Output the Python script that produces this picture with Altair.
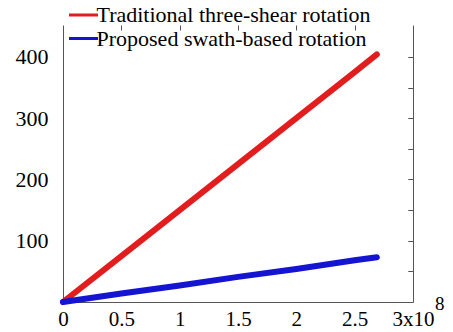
import altair as alt
import pandas as pd

# x in units of 10^8
series_names = ["Traditional three-shear rotation", "Proposed swath-based rotation"]
x_vals = [0.0, 0.5, 1.0, 1.5, 2.0, 2.5, 2.69]
red_vals = [0, 75, 150, 225, 300, 375, 404]
blue_vals = [0, 14, 27, 41, 54, 68, 73]
colors = ["#e31d1d", "#1414d2"]
x_ticks = [0.5, 1.0, 1.5, 2.0, 2.5]
y_ticks = [50, 100, 150, 200, 250, 300, 350, 400]
y_labels = [100, 200, 300, 400]
x_labels = [0, 0.5, 1, 1.5, 2, 2.5, 3]

rows = []
for xv, r, b in zip(x_vals, red_vals, blue_vals):
    rows.append({"x": xv, "y": r, "series": series_names[0]})
    rows.append({"x": xv, "y": b, "series": series_names[1]})
df = pd.DataFrame(rows)

FONT = "Liberation Serif"
AX = "#555555"
xs = alt.Scale(domain=[0, 3], nice=False, zero=True)
ys = alt.Scale(domain=[0, 452], nice=False)

base = alt.Chart(df)

lines = base.mark_line(strokeWidth=6, strokeCap="round").encode(
    x=alt.X("x:Q", scale=xs, title=None,
            axis=alt.Axis(values=x_labels, ticks=False, grid=False, domainColor=AX,
                          labelFont=FONT, labelFontSize=21, labelColor="black",
                          labelPadding=6, labelFlush=False,
                          labelExpr="datum.value == 3 ? '3x10' : format(datum.value, '~g')")),
    y=alt.Y("y:Q", scale=ys, title=None,
            axis=alt.Axis(values=y_labels, ticks=False, grid=False, domainColor=AX,
                          labelFont=FONT, labelFontSize=22, labelColor="black",
                          labelPadding=15)),
    color=alt.Color("series:N", sort=series_names,
                    scale=alt.Scale(domain=series_names, range=colors),
                    legend=alt.Legend(orient="none", legendX=9.5, legendY=-21, title=None,
                                      symbolType="M-2,0H2", symbolSize=210,
                                      symbolStrokeWidth=3, labelFont=FONT,
                                      labelFontSize=22, labelColor="black",
                                      labelLimit=0, labelOffset=2, padding=0,
                                      rowPadding=1.5)),
)

tick_axes = base.mark_point(opacity=0).encode(
    x=alt.X("x:Q", scale=xs, title=None,
            axis=alt.Axis(values=x_ticks, domain=False, labels=False, grid=False,
                          tickSize=5, offset=-5, tickColor=AX)),
    y=alt.Y("y:Q", scale=ys, title=None,
            axis=alt.Axis(values=y_ticks, domain=False, labels=False, grid=False,
                          tickSize=5, offset=-5, tickColor=AX)),
)

right_ticks = base.mark_point(opacity=0).encode(
    x=alt.X("x:Q", scale=xs, axis=None),
    y=alt.Y("y:Q", scale=ys, title=None,
            axis=alt.Axis(orient="right", values=y_ticks, domain=False, labels=False,
                          grid=False, tickSize=5, offset=-5, tickColor=AX)),
)

right_domain = base.mark_point(opacity=0).encode(
    x=alt.X("x:Q", scale=xs, axis=None),
    y=alt.Y("y:Q", scale=ys, title=None,
            axis=alt.Axis(orient="right", ticks=False, labels=False, grid=False,
                          domainColor=AX)),
)

sup = alt.Chart(pd.DataFrame({"x": [3.0], "t": ["8"]})).mark_text(
    font=FONT, fontSize=19, align="left", baseline="top", dx=22, color="black"
).encode(x=alt.X("x:Q", scale=xs, axis=None), y=alt.value(270), text="t:N")

chart = alt.layer(lines, tick_axes, right_ticks, right_domain, sup).resolve_axis(
    x="independent", y="independent"
).properties(
    width=350, height=277,
    autosize=alt.AutoSizeParams(type="none"),
    padding={"left": 55, "top": 17, "right": 32, "bottom": 28},
).configure_view(stroke=None)

chart.save("out.html", embed_options={"renderer": "svg", "actions": False})
